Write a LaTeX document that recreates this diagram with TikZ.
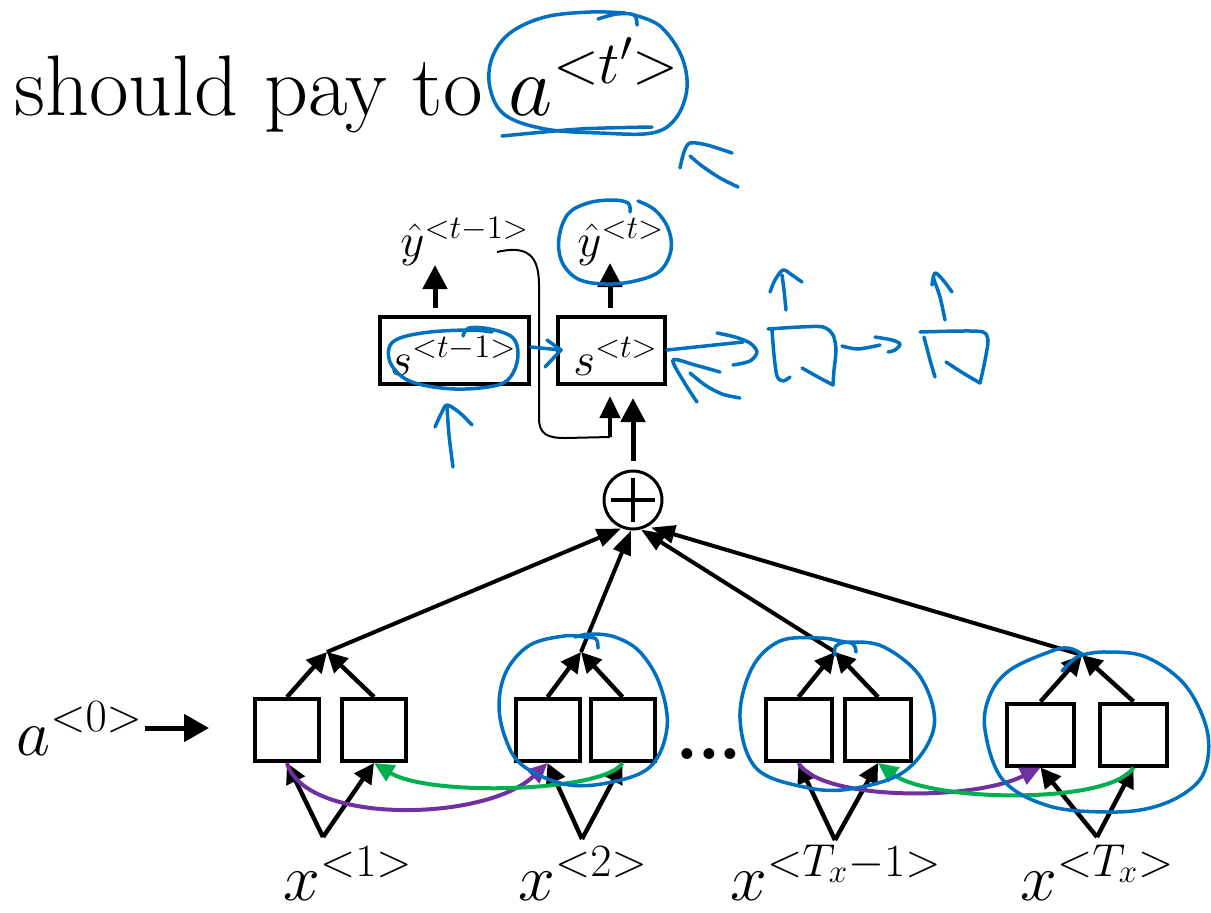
\RequirePackage{fix-cm}
\documentclass[tikz,border=0pt]{standalone}
\usetikzlibrary{arrows.meta}
\definecolor{inkblue}{RGB}{0,112,192}
\definecolor{fwdpurple}{RGB}{112,48,160}
\definecolor{bwdgreen}{RGB}{0,176,80}
\newcommand\ttlsz{\fontsize{43}{50}\selectfont}
\newcommand\lblsz{\fontsize{33}{40}\selectfont}
\newcommand\decsz{\fontsize{23.5}{28}\selectfont}
\newcommand\dotsz{\fontsize{38}{38}\selectfont}

\begin{document}
\begin{tikzpicture}[x=0.5pt,y=-0.5pt,
  encbox/.style={draw, line width=2pt, minimum width=32pt, minimum height=31pt, inner sep=0pt},
  decbox/.style={draw, line width=2pt, minimum height=33.5pt, inner sep=0pt},
  txt/.style={anchor=base west, inner sep=0pt},
  enc/.style={line width=2.2pt, -{Triangle[length=10pt,width=10pt]}},
  sumin/.style={line width=2pt, -{Triangle[length=12pt,width=9pt]}},
  decup/.style={line width=2.5pt, -{Triangle[length=12pt,width=12pt]}},
  fwd/.style={fwdpurple, line width=2pt, -{Triangle[length=10pt,width=9pt]}},
  bwd/.style={bwdgreen, line width=2pt, -{Triangle[length=10pt,width=9pt]}},
  ink/.style={inkblue, line width=1.75pt, line cap=round, line join=round}]
\useasboundingbox (0,0) rectangle (1211,912);

% ---------- title ----------
\node[txt, font=\ttlsz] (title) at (14,115) {should pay to $a^{<t'>}$};

% ---------- encoder: bidirectional cells ----------
\node[encbox] (p1l) at (287,730) {};
\node[encbox] (p1r) at (374,730) {};
\node[encbox] (p2l) at (547.5,730) {};
\node[encbox] (p2r) at (622.5,730) {};
\node[encbox, minimum width=33pt] (p3l) at (798.5,730) {};
\node[encbox, minimum width=33pt] (p3r) at (878,730) {};
\node[encbox, minimum width=33.5pt] (p4l) at (1040.5,734.5) {};
\node[encbox, minimum width=33.5pt] (p4r) at (1133.5,734.5) {};

\node[anchor=base, inner sep=0pt, font=\dotsz\bfseries] (dots) at (709,759) {.\kern-1pt.\kern-1pt.};

% merge points above each pair, input points below
\coordinate (m1) at (327,652);
\coordinate (m2) at (581,652);
\coordinate (m3) at (835,652);
\coordinate (m4) at (1082,655);
\coordinate (v1) at (323,837);
\coordinate (v2) at (582,839);
\coordinate (v3) at (835,840);
\coordinate (v4) at (1097,837);

% input labels
\node[txt, font=\lblsz] (a0) at (16,755) {$a^{<0>}$};
\node[txt, font=\lblsz] (x1) at (283,900) {$x^{<1>}$};
\node[txt, font=\lblsz] (x2) at (518,900) {$x^{<2>}$};
\node[txt, font=\lblsz] (x3) at (730,900) {$x^{<T_x-1>}$};
\node[txt, font=\lblsz] (x4) at (1020,900) {$x^{<T_x>}$};

\coordinate (a0s) at (145,728);
\coordinate (a0t) at (209,728);
\draw[line width=2.5pt, -{Triangle[length=12.5pt,width=13.5pt]}] (a0s) -- (a0t);

% inputs into cells
\foreach \v/\l/\r in {v1/p1l/p1r, v2/p2l/p2r, v3/p3l/p3r, v4/p4l/p4r}{
  \draw[enc] (\v) -- (\l.south);
  \draw[enc] (\v) -- (\r.south);
}
% cells into merge points
\foreach \m/\l/\r in {m1/p1l/p1r, m2/p2l/p2r, m3/p3l/p3r, m4/p4l/p4r}{
  \draw[enc] (\l.north) -- (\m);
  \draw[enc] (\r.north) -- (\m);
}

% recurrent connections
\draw[fwd] (p1l.south) .. controls (305,825) and (485,822) .. (p2l.south);
\draw[bwd] (p2r.south) .. controls (605,792) and (430,797) .. (p1r.south);
\draw[fwd] (p3l.south) .. controls (820,800) and (970,802) .. (p4l.south);
\draw[bwd] (p4r.south) .. controls (1110,805) and (930,802) .. (p3r.south);

% ---------- attention sum ----------
\node[circle, draw, line width=1.5pt, minimum size=29pt, inner sep=0pt] (plus) at (633,500) {};
\draw[line width=2pt] ([yshift=11pt]plus.center) -- ([yshift=-11pt]plus.center);
\draw[line width=2pt] ([xshift=-11pt]plus.center) -- ([xshift=11pt]plus.center);
\draw[sumin] (m1) -- ([xshift=-6pt, yshift=1pt]plus.south);
\draw[sumin] (m2) -- ([xshift=-1pt]plus.south);
\draw[sumin] (m3) -- ([xshift=4pt, yshift=0.5pt]plus.south);
\draw[sumin] (m4) -- ([xshift=9pt, yshift=1.5pt]plus.south);

% ---------- decoder ----------
\node[decbox, minimum width=74.5pt] (s1) at (454.5,350.5) {};
\node[decbox, minimum width=53.5pt] (s2) at (611.5,350.5) {};
\node[txt, font=\decsz] (s1txt) at (390,375) {$s^{<t-1>}$};
\node[txt, font=\decsz] (s2txt) at (573,375) {$s^{<t>}$};
\node[txt, font=\decsz] (yprev) at (400,256) {$\hat{y}^{<t-1>}$};
\node[txt, font=\decsz] (ycur) at (577,256) {$\hat{y}^{<t>}$};

\coordinate (u1) at (435,308);
\coordinate (u1t) at (435,265);
\coordinate (u2) at (610,308);
\coordinate (u2t) at (610,263);
\draw[decup] (u1) -- (u1t);
\draw[decup] (u2) -- (u2t);

% previous output fed back into the next state
\coordinate (fbs) at (497,252);
\coordinate (fbj) at (610,437);
\coordinate (fbt) at (610,396);
\draw[line width=1pt] (fbs) .. controls (527,245) and (539,255) .. (539,285)
  -- (539,418) .. controls (539,434) and (547,438) .. (565,438) -- (fbj);
\draw[line width=2.2pt, -{Triangle[length=11pt,width=10pt]}] (fbj) -- (fbt);

% context into the state
\draw[decup, shorten <=4.5pt, shorten >=6pt] (plus.north) -- (plus.north |- s2.south);

% ---------- hand-drawn notes ----------
% around a^{<t'>}
\draw[ink] plot[smooth, tension=0.6] coordinates {(598,19) (617,14) (634,15) (637,25)};
\draw[ink] plot[smooth, tension=0.6] coordinates {(634,15) (660,26) (681,55) (687,88) (676,118) (652,133) (600,133) (545,129) (505,115) (490,88) (492,58) (510,33) (545,17) (590,12) (625,13)};
\draw[ink] plot[smooth] coordinates {(502,136) (580,129) (652,127)};
\draw[ink] plot[smooth] coordinates {(680,168) (684,152) (690,143) (707,145) (732,153)};
\draw[ink] plot[smooth] coordinates {(690,156) (702,166) (720,178) (738,187)};

% around y-hat<t> and s<t-1>
\draw[ink] plot[smooth, tension=0.6] coordinates {(630,212) (628,203) (612,200) (588,203) (568,214) (559,238) (562,262) (578,279) (605,284) (635,281) (660,271) (671,250) (668,228) (655,210) (638,201)};
\draw[ink] plot[smooth, tension=0.6] coordinates {(463,336) (469,328) (490,329) (512,337) (518,353) (513,373) (498,385) (455,389) (412,382) (392,366) (389,348) (400,338) (430,332) (470,330) (492,332)};

% arrows around the decoder states
\draw[ink] (531,347) -- (561,350);
\draw[ink] (547,340) -- (561,350) -- (545,367);
\draw[ink] plot[smooth] coordinates {(453,467) (449,435) (447,407)};
\draw[ink] plot[smooth] coordinates {(435,427) (441,414) (447,405) (460,413) (472,425)};
\draw[ink] plot[smooth] coordinates {(667,350) (705,346) (743,342)};
\draw[ink] plot[smooth] coordinates {(717,333) (735,337) (750,343) (757,352) (750,361) (733,365)};
\draw[ink] plot[smooth] coordinates {(720,372) (695,365) (673,360) (684,382) (697,402)};
\draw[ink] plot[smooth] coordinates {(690,373) (705,385) (722,394) (740,398)};

% sketched next cells
\draw[ink] plot[smooth] coordinates {(768,329) (800,327) (823,327) (833,335) (836,350) (834,370) (833,385)};
\draw[ink] plot[smooth] coordinates {(802,368) (818,377) (833,385)};
\draw[ink] plot[smooth] coordinates {(772,330) (774,355) (777,376) (783,381) (790,377)};
\draw[ink] plot[smooth] coordinates {(786,310) (784,290) (782,275)};
\draw[ink] plot[smooth] coordinates {(770,292) (775,280) (783,270) (792,275) (802,282)};
\draw[ink] plot[smooth] coordinates {(842,346) (858,349) (880,345)};
\draw[ink] plot[smooth] coordinates {(875,337) (892,340) (900,344) (895,350) (888,352)};
\draw[ink] plot[smooth] coordinates {(920,332) (960,331) (983,332) (988,340) (986,355) (983,370) (980,383)};
\draw[ink] plot[smooth] coordinates {(946,362) (963,373) (980,383)};
\draw[ink] plot[smooth] coordinates {(924,337) (930,360) (935,377)};
\draw[ink] plot[smooth] coordinates {(945,320) (940,297) (933,277)};
\draw[ink] plot[smooth] coordinates {(932,285) (935,273) (943,280) (952,292)};

% circles around encoder pairs
\draw[ink] plot[smooth, tension=0.6] coordinates {(598,648) (596,639) (585,637) (564,636) (530,645) (507,670) (499,703) (505,737) (522,765) (564,784) (607,783) (650,767) (667,728) (660,685) (640,652) (615,637) (590,634) (575,637)};
\draw[ink] plot[smooth, tension=0.6] coordinates {(856,652) (853,644) (840,641) (819,638) (780,641) (752,668) (740,718) (756,768) (804,787) (850,789) (905,771) (934,727) (921,678) (884,647) (850,642) (836,646) (835,655)};
\draw[ink] plot[smooth, tension=0.6] coordinates {(1062,671) (1072,661) (1082,655) (1107,652) (1146,657) (1185,685) (1207,730) (1205,770) (1185,793) (1150,808) (1107,812) (1049,806) (1003,780) (985,730) (990,695) (1010,670) (1049,652) (1068,648) (1082,654)};
\end{tikzpicture}
\end{document}
